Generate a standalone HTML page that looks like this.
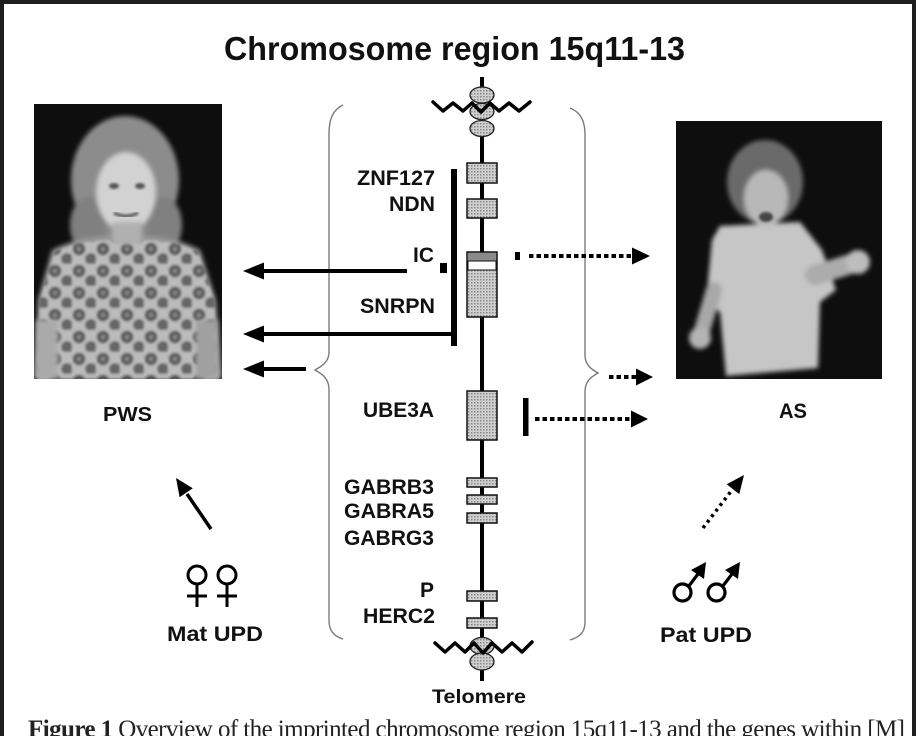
<!DOCTYPE html>
<html>
<head>
<meta charset="utf-8">
<style>
html,body{margin:0;padding:0;background:#fff;}
body{width:916px;height:736px;overflow:hidden;}
svg{display:block;}
.lb{font-family:"Liberation Sans",Arial,sans-serif;font-weight:bold;fill:#111;}
</style>
</head>
<body>
<svg width="916" height="736" viewBox="0 0 916 736" xmlns="http://www.w3.org/2000/svg">
<defs>
  <pattern id="hatch" width="3" height="3" patternUnits="userSpaceOnUse">
    <rect width="3" height="3" fill="#d0d0d0"/>
    <rect width="1.5" height="1.5" fill="#888"/>
  </pattern>
  <pattern id="dress" width="24" height="22" patternUnits="userSpaceOnUse">
    <rect width="24" height="22" fill="#c8c8c8"/>
    <circle cx="7" cy="7" r="6.5" fill="#4a4a4a"/>
    <circle cx="19" cy="17" r="6" fill="#555"/>
    <circle cx="7" cy="7" r="2" fill="#888"/>
  </pattern>
  <filter id="blur2" x="-20%" y="-20%" width="140%" height="140%"><feGaussianBlur stdDeviation="2.5"/></filter>
  <filter id="blur1" x="-20%" y="-20%" width="140%" height="140%"><feGaussianBlur stdDeviation="1.2"/></filter>
  <clipPath id="cl"><rect x="34" y="104" width="188" height="275"/></clipPath>
  <clipPath id="cr"><rect x="676" y="121" width="206" height="258"/></clipPath>
</defs>

<!-- frame -->
<rect x="0" y="0" width="916" height="4" fill="#1e1e1e"/>
<rect x="0" y="0" width="4" height="736" fill="#1e1e1e"/>
<rect x="912" y="0" width="4" height="736" fill="#1e1e1e"/>

<!-- title -->
<text class="lb" x="224" y="60" font-size="33" textLength="461" lengthAdjust="spacingAndGlyphs">Chromosome region 15q11-13</text>

<!-- left photo (PWS) -->
<g clip-path="url(#cl)">
  <rect x="34" y="104" width="188" height="275" fill="#0e0e0e"/>
  <g filter="url(#blur2)">
    <ellipse cx="125" cy="180" rx="54" ry="64" fill="#8c8c8c"/>
    <ellipse cx="88" cy="225" rx="18" ry="28" fill="#808080"/>
    <ellipse cx="164" cy="225" rx="18" ry="28" fill="#808080"/>
    <path d="M52,250 Q90,232 125,238 Q165,232 200,250 L216,300 L222,379 L34,379 L38,300 Z" fill="#9a9a9a"/>
  </g>
  <path d="M55,252 Q90,236 125,242 Q165,236 198,252 L214,300 L218,379 L38,379 L40,300 Z" fill="url(#dress)" opacity="0.75" filter="url(#blur1)"/>
  <g filter="url(#blur2)">
    <ellipse cx="126" cy="192" rx="30" ry="40" fill="#d2d2d2"/>
    <rect x="112" y="222" width="30" height="22" fill="#b0b0b0"/>
    <rect x="36" y="320" width="22" height="59" fill="#aaaaaa"/>
    <rect x="196" y="320" width="22" height="59" fill="#a0a0a0"/>
  </g>
  <ellipse cx="114" cy="186" rx="5" ry="3" fill="#555" filter="url(#blur1)"/>
  <ellipse cx="140" cy="186" rx="5" ry="3" fill="#555" filter="url(#blur1)"/>
  <path d="M114,213 Q126,219 138,213" stroke="#555" stroke-width="3" fill="none" filter="url(#blur1)"/>
</g>

<!-- right photo (AS) -->
<g clip-path="url(#cr)">
  <rect x="676" y="121" width="206" height="258" fill="#0e0e0e"/>
  <g filter="url(#blur2)">
    <ellipse cx="765" cy="182" rx="38" ry="42" fill="#6a6a6a"/>
    <path d="M720,226 L800,222 L822,250 L836,290 L820,302 L818,368 L726,376 L720,312 L706,302 L712,240 Z" fill="#c6c6c6"/>
    <path d="M815,275 L857,262" stroke="#acacac" stroke-width="20" stroke-linecap="round"/>
    <circle cx="858" cy="262" r="12" fill="#bdbdbd"/>
    <path d="M714,290 L701,334" stroke="#a8a8a8" stroke-width="16" stroke-linecap="round"/>
    <circle cx="700" cy="338" r="11" fill="#b4b4b4"/>
    <ellipse cx="766" cy="198" rx="22" ry="28" fill="#b8b8b8"/>
  </g>
  <ellipse cx="766" cy="217" rx="7" ry="5" fill="#444" filter="url(#blur1)"/>
</g>

<!-- braces -->
<path d="M343,105 C333,110 329,118 329,135 L329,352 C329,362 322,366 315,370 C322,374 329,378 329,390 L329,620 C329,630 333,636 343,639" fill="none" stroke="#7a7a7a" stroke-width="1.4"/>
<path d="M570,108 C580,112 585,120 585,135 L585,355 C585,365 591,369 598,373 C591,377 585,381 585,392 L585,622 C585,632 580,637 570,640" fill="none" stroke="#7a7a7a" stroke-width="1.4"/>

<!-- chromosome axis -->
<line x1="482" y1="77" x2="482" y2="681" stroke="#000" stroke-width="4"/>

<!-- top centromere -->
<ellipse cx="482" cy="95" rx="12" ry="8" fill="url(#hatch)" stroke="#222" stroke-width="1.3"/>
<ellipse cx="482" cy="111.5" rx="12" ry="8" fill="url(#hatch)" stroke="#222" stroke-width="1.3"/>
<ellipse cx="482" cy="128.5" rx="12" ry="8" fill="url(#hatch)" stroke="#222" stroke-width="1.3"/>
<polyline points="433,102 443,111 453,103 463,111 472,103 481,112 490,103 499,111 509,103 519,111 530,102" fill="none" stroke="#000" stroke-width="3.5" stroke-linejoin="round" stroke-linecap="round"/>

<!-- bottom centromere -->
<ellipse cx="482" cy="646" rx="12" ry="8.5" fill="url(#hatch)" stroke="#222" stroke-width="1.3"/>
<ellipse cx="482" cy="661.5" rx="12" ry="8.5" fill="url(#hatch)" stroke="#222" stroke-width="1.3"/>
<polyline points="435,643 445,652 455,643 465,652 474,643 483,653 492,643 502,652 512,643 522,652 532,642" fill="none" stroke="#000" stroke-width="3.5" stroke-linejoin="round" stroke-linecap="round"/>

<!-- gene boxes -->
<g stroke="#111" stroke-width="1.5">
  <rect x="467" y="163" width="30" height="20" fill="url(#hatch)"/>
  <rect x="467" y="199" width="30" height="19" fill="url(#hatch)"/>
  <rect x="467" y="252" width="30" height="65" fill="url(#hatch)"/>
  <rect x="467" y="391" width="30" height="49" fill="url(#hatch)"/>
  <rect x="467" y="478" width="30" height="9" fill="url(#hatch)"/>
  <rect x="467" y="495" width="30" height="9" fill="url(#hatch)"/>
  <rect x="467" y="513" width="30" height="10" fill="url(#hatch)"/>
  <rect x="467" y="591" width="30" height="10" fill="url(#hatch)"/>
  <rect x="467" y="618" width="30" height="10" fill="url(#hatch)"/>
</g>
<rect x="468" y="253" width="28" height="8" fill="#8a8a8a"/>
<rect x="468" y="261" width="28" height="9" fill="#fff" stroke="#111" stroke-width="1"/>

<!-- gene labels -->
<g class="lb" font-size="21">
  <text x="357" y="185" textLength="78" lengthAdjust="spacingAndGlyphs">ZNF127</text>
  <text x="389" y="211" textLength="46" lengthAdjust="spacingAndGlyphs">NDN</text>
  <text x="413" y="262" textLength="21" lengthAdjust="spacingAndGlyphs">IC</text>
  <text x="360" y="313" textLength="75" lengthAdjust="spacingAndGlyphs">SNRPN</text>
  <text x="363" y="417" textLength="71" lengthAdjust="spacingAndGlyphs">UBE3A</text>
  <text x="344" y="494" textLength="90" lengthAdjust="spacingAndGlyphs">GABRB3</text>
  <text x="344" y="518" textLength="90" lengthAdjust="spacingAndGlyphs">GABRA5</text>
  <text x="344" y="545" textLength="90" lengthAdjust="spacingAndGlyphs">GABRG3</text>
  <text x="434" y="597" text-anchor="end">P</text>
  <text x="363" y="623" textLength="72" lengthAdjust="spacingAndGlyphs">HERC2</text>
</g>

<!-- IC small square & imprinting bar -->
<rect x="440" y="263" width="7" height="10" fill="#000"/>
<rect x="451" y="169" width="6" height="177" fill="#000"/>

<!-- left solid arrows -->
<g fill="#000" stroke="#000">
  <line x1="261" y1="271" x2="407" y2="271" stroke-width="4"/>
  <polygon points="243,271 264,262.5 264,279.5" stroke="none"/>
  <line x1="261" y1="334" x2="452" y2="334" stroke-width="4"/>
  <polygon points="243,334 264,325.5 264,342.5" stroke="none"/>
  <line x1="261" y1="369" x2="306" y2="369" stroke-width="4"/>
  <polygon points="243,369 264,360.5 264,377.5" stroke="none"/>
</g>

<!-- right dotted arrows -->
<rect x="515" y="252" width="5" height="8" fill="#000"/>
<line x1="529" y1="256" x2="633" y2="256" stroke="#000" stroke-width="4" stroke-dasharray="4.5 3"/>
<polygon points="650,256 632,247.5 632,264.5" fill="#000"/>

<line x1="609" y1="377" x2="637" y2="377" stroke="#000" stroke-width="4" stroke-dasharray="4.5 3"/>
<polygon points="653,377 636,368.5 636,385.5" fill="#000"/>

<rect x="523" y="398" width="5.5" height="38" fill="#000"/>
<line x1="535" y1="419" x2="632" y2="419" stroke="#000" stroke-width="4" stroke-dasharray="4.5 3"/>
<polygon points="648,419 631,410.5 631,427.5" fill="#000"/>

<!-- PWS / AS -->
<text class="lb" x="103" y="421" font-size="20" textLength="49" lengthAdjust="spacingAndGlyphs">PWS</text>
<text class="lb" x="779" y="418" font-size="21" textLength="28" lengthAdjust="spacingAndGlyphs">AS</text>

<!-- Mat UPD arrow -->
<line x1="211" y1="529" x2="187" y2="494" stroke="#000" stroke-width="3.5"/>
<polygon points="176,478 192.8,488.3 179.6,497.3" fill="#000"/>

<!-- female symbols -->
<g fill="none" stroke="#000" stroke-width="3">
  <circle cx="197" cy="575" r="9"/>
  <line x1="197" y1="584" x2="197" y2="607"/>
  <line x1="187" y1="596" x2="207" y2="596"/>
  <circle cx="227" cy="575" r="9"/>
  <line x1="227" y1="584" x2="227" y2="607"/>
  <line x1="217" y1="596" x2="237" y2="596"/>
</g>
<text class="lb" x="167" y="641" font-size="21" textLength="96" lengthAdjust="spacingAndGlyphs">Mat UPD</text>

<!-- Pat UPD dotted arrow -->
<line x1="703" y1="528" x2="732" y2="490" stroke="#000" stroke-width="3.5" stroke-dasharray="3 4"/>
<polygon points="744,475 739.3,494.1 726.7,484.3" fill="#000"/>

<!-- male symbols -->
<g fill="none" stroke="#000" stroke-width="3.2">
  <circle cx="682.5" cy="592.5" r="8.5"/>
  <line x1="688.5" y1="586.5" x2="698" y2="574"/>
  <circle cx="716.5" cy="592.5" r="8.5"/>
  <line x1="722.5" y1="586.5" x2="732" y2="574"/>
</g>
<polygon points="706,562 704,579 691,570" fill="#000"/>
<polygon points="740,562 738,579 725,570" fill="#000"/>
<text class="lb" x="660" y="642" font-size="21" textLength="92" lengthAdjust="spacingAndGlyphs">Pat UPD</text>

<!-- Telomere -->
<text class="lb" x="432" y="703" font-size="19" textLength="94" lengthAdjust="spacingAndGlyphs">Telomere</text>

<!-- caption (cut off) -->
<text x="28" y="737" font-family="'Liberation Serif',serif" font-size="25" fill="#222" textLength="877" lengthAdjust="spacing"><tspan font-weight="bold">Figure 1</tspan>   Overview of the imprinted chromosome region 15q11-13 and the genes within [M]</text>
</svg>
</body>
</html>
